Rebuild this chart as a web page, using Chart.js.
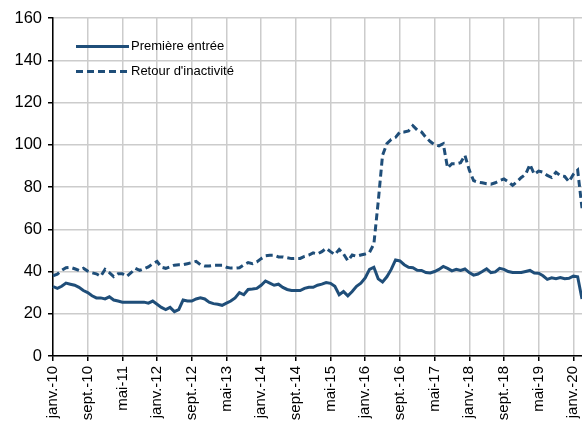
<!DOCTYPE html>
<html>
<head>
<meta charset="utf-8">
<script src="https://cdn.jsdelivr.net/npm/chart.js@4.4.1/dist/chart.umd.min.js"></script>
<style>
  html, body { margin: 0; padding: 0; background: #fff; }
  #wrap { position: relative; width: 582px; height: 421px; }
</style>
</head>
<body>
<div id="wrap"><canvas id="chart" width="582" height="421"></canvas></div>
<script>
// month labels, janv.-10 .. mars-20
const monthNames = ['janv.', 'févr.', 'mars', 'avr.', 'mai', 'juin', 'juil.', 'août', 'sept.', 'oct.', 'nov.', 'déc.'];
const firstYear = 10;
const nMonths = 123;
const months = [];
for (let i = 0; i < nMonths; i++) {
    months.push(monthNames[i % 12] + '-' + String(firstYear + Math.floor(i / 12)).padStart(2, '0'));
}

// Première entrée
const premiereEntree = [
    32.9, 32, 33, 34.5, 34, 33.5, 32.5, 31, 30, 28.5, 27.5, 27.5,
    27, 28, 26.5, 26, 25.5, 25.5, 25.5, 25.5, 25.5, 25.5, 25, 26,
    24.5, 23, 22, 23, 21, 22, 26.5, 26, 26, 27, 27.5, 27,
    25.5, 24.8, 24.5, 24, 25, 26, 27.5, 30, 29, 31.5, 31.7, 32,
    33.5, 35.5, 34.5, 33.5, 34, 32.5, 31.5, 31, 31, 31, 32, 32.5,
    32.5, 33.5, 34, 34.8, 34.4, 33, 29, 30.5, 28.5, 30.5, 33, 34.5,
    37, 41, 42, 36.5, 35, 37.5, 41, 45.5, 45, 43.2, 42, 41.8,
    40.6, 40.5, 39.5, 39.3, 40, 41, 42.4, 41.5, 40.3, 41, 40.5, 41.2,
    39.5, 38.3, 38.8, 40, 41.3, 39.5, 39.8, 41.5, 41, 40, 39.5, 39.5,
    39.5, 40, 40.5, 39.3, 39.2, 38, 36.3, 37, 36.6, 37.1, 36.6, 36.8,
    37.8, 37.5, 27
];

// Retour d'inactivité
const retourInactivite = [
    38, 38.7, 40.5, 41.8, 42, 41.3, 40.5, 41.5, 40.2, 39.4, 38.9, 37.7,
    41, 39.5, 37.6, 38.9, 38.9, 37.7, 39.4, 41.5, 40.5, 41.3, 42.2, 43.7,
    44.8, 42, 41.5, 42.2, 43, 43.2, 43.2, 43.7, 44.2, 44.8, 43.2, 42.6,
    42.6, 42.9, 42.9, 42.9, 42, 41.6, 41.6, 41.8, 43.2, 44.2, 43.7, 44.5,
    46.1, 47.4, 47.7, 47.7, 46.9, 46.9, 46.5, 46.1, 46.2, 46.2, 47.2, 47.8,
    48.8, 48.3, 49.4, 51, 49.4, 48, 50.4, 48.3, 45.1, 47.8, 47.2, 47.8,
    48.3, 49.1, 53, 73, 95, 100.5, 102.5, 103.5, 106, 106, 106.5, 109,
    107, 106, 103.5, 101.5, 100, 99.5, 100.5, 89, 91, 91, 91.5, 95,
    88, 83, 82.3, 82, 81.5, 81.3, 82, 83, 83.8, 82.5, 80.8, 82.5,
    84.5, 86, 90.7, 86, 87.5, 87, 85.5, 84.5, 87, 85.4, 85, 82.5,
    86, 88, 70
];

const yTicks = { min: 0, max: 160, step: 20 };
const labelEvery = 8;
const blue = '#1f4e79';
const fontFamily = '"Liberation Sans", Arial, sans-serif';

const insideLegend = {
    id: 'insideLegend',
    afterDraw(chart) {
        const ctx = chart.ctx;
        chart.data.datasets.forEach((ds, i) => {
            const y = 46.5 + i * 25;
            ctx.save();
            ctx.strokeStyle = ds.borderColor;
            ctx.lineWidth = ds.borderWidth;
            ctx.setLineDash(ds.borderDash || []);
            ctx.beginPath();
            ctx.moveTo(76, y);
            ctx.lineTo(129, y);
            ctx.stroke();
            ctx.setLineDash([]);
            ctx.fillStyle = '#000';
            ctx.font = '13px ' + fontFamily;
            ctx.textBaseline = 'middle';
            ctx.fillText(ds.label, 131, y);
            ctx.restore();
        });
    }
};

new Chart(document.getElementById('chart'), {
    type: 'line',
    data: {
        labels: months,
        datasets: [
            {
                label: 'Première entrée',
                data: premiereEntree,
                borderColor: blue,
                borderWidth: 3,
                pointRadius: 0,
                tension: 0,
                fill: false
            },
            {
                label: "Retour d'inactivité",
                data: retourInactivite,
                borderColor: blue,
                borderWidth: 3,
                borderDash: [7, 4],
                pointRadius: 0,
                tension: 0,
                fill: false
            }
        ]
    },
    options: {
        responsive: false,
        devicePixelRatio: 1,
        animation: false,
        layout: { padding: { top: 18, right: 0, left: 0, bottom: 0 } },
        plugins: {
            legend: { display: false },
            tooltip: { enabled: false }
        },
        scales: {
            x: {
                type: 'category',
                offset: false,
                grid: {
                    color: (c) => (c.index % labelEvery === 0 ? '#cccccc' : 'rgba(0,0,0,0)'),
                    tickColor: (c) => (c.index % labelEvery === 0 ? '#000' : 'rgba(0,0,0,0)'),
                    lineWidth: 1.5,
                    tickLength: 5
                },
                border: { color: '#000', width: 1.5 },
                ticks: {
                    autoSkip: false,
                    minRotation: 90,
                    maxRotation: 90,
                    padding: 5,
                    color: '#000',
                    font: { family: fontFamily, size: 15 },
                    callback: (v, i) => (i % labelEvery === 0 ? months[i] : '')
                },
                afterFit: (s) => {
                    s.height = 65;
                    s.paddingLeft = 0;
                    s.paddingRight = 0;
                }
            },
            y: {
                min: yTicks.min,
                max: yTicks.max,
                grid: {
                    color: '#cccccc',
                    tickColor: '#000',
                    lineWidth: 1.5,
                    tickLength: 5
                },
                border: { color: '#000', width: 1.5 },
                ticks: {
                    stepSize: yTicks.step,
                    padding: 6,
                    color: '#000',
                    font: { family: fontFamily, size: 16.5 }
                },
                afterFit: (s) => {
                    s.width = 53;
                }
            }
        }
    },
    plugins: [insideLegend]
});
</script>
</body>
</html>
